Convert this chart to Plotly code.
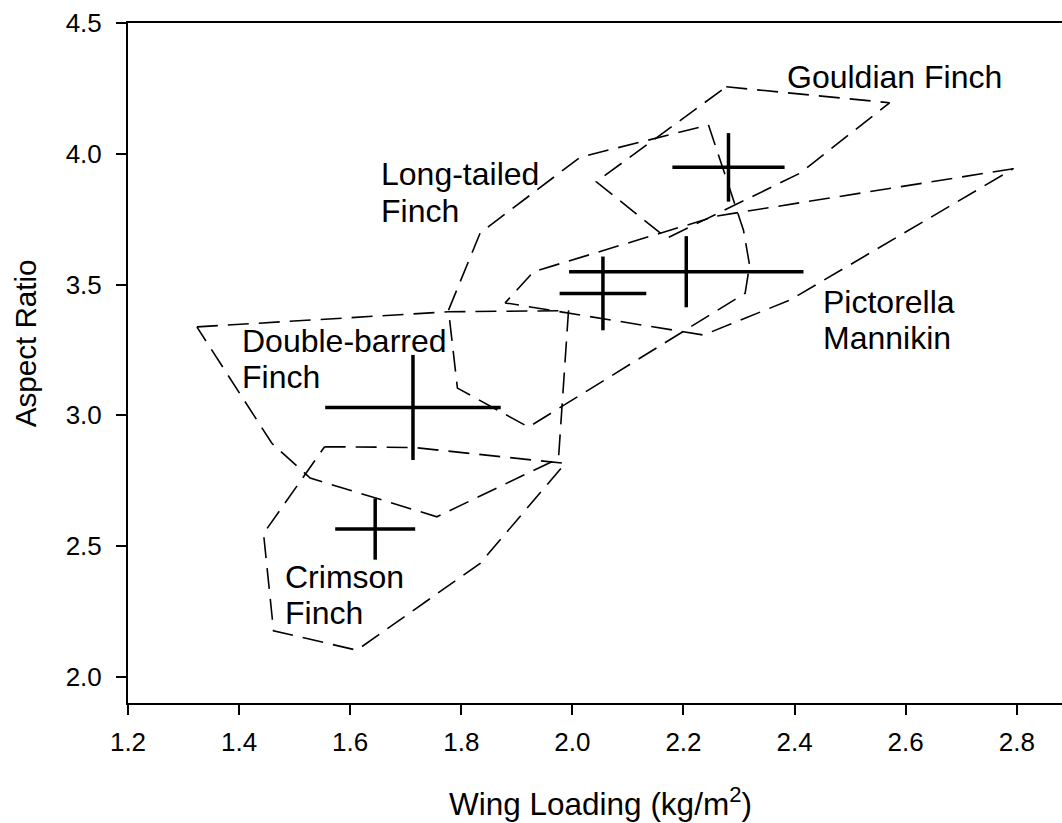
import plotly.graph_objects as go

# ---- data ----
species = ["Gouldian Finch", "Pictorella Mannikin", "Long-tailed Finch", "Double-barred Finch", "Crimson Finch"]
mean_wl = [2.281, 2.205, 2.055, 1.713, 1.645]
se_wl = [0.101, 0.211, 0.078, 0.158, 0.072]
mean_ar = [3.948, 3.549, 3.466, 3.030, 2.565]
se_ar = [0.131, 0.136, 0.141, 0.201, 0.117]

gouldian_wl = [2.277, 2.571, 2.410, 2.170, 2.043]
gouldian_ar = [4.256, 4.195, 3.926, 3.677, 3.893]

pictorella_wl = [2.794, 2.260, 1.930, 1.879, 2.236, 2.392]
pictorella_ar = [3.943, 3.762, 3.549, 3.430, 3.307, 3.441]

longtailed_wl = [2.245, 2.308, 2.319, 2.311, 1.921, 1.793, 1.777, 1.834, 2.014]
longtailed_ar = [4.110, 3.708, 3.574, 3.467, 2.955, 3.104, 3.402, 3.697, 3.987]

doublebarred_wl = [1.324, 1.777, 1.993, 1.975, 1.756, 1.528, 1.459]
doublebarred_ar = [3.338, 3.396, 3.400, 2.835, 2.612, 2.760, 2.893]

crimson_wl = [1.554, 1.714, 1.987, 1.834, 1.612, 1.462, 1.444]
crimson_ar = [2.880, 2.877, 2.816, 2.434, 2.102, 2.176, 2.548]

hulls = [
    (gouldian_wl, gouldian_ar),
    (pictorella_wl, pictorella_ar),
    (longtailed_wl, longtailed_ar),
    (doublebarred_wl, doublebarred_ar),
    (crimson_wl, crimson_ar),
]

label_lines = ["Gouldian Finch", "Long-tailed", "Finch", "Double-barred", "Finch",
               "Pictorella", "Mannikin", "Crimson", "Finch"]
label_x = [2.383, 1.651, 1.651, 1.402, 1.402, 2.4475, 2.4475, 1.479, 1.479]
label_y = [4.2945, 3.922, 3.782, 3.2845, 3.146, 3.434, 3.297, 2.3805, 2.2424]

x_ticks = [1.2, 1.4, 1.6, 1.8, 2.0, 2.2, 2.4, 2.6, 2.8]
y_ticks = [2.0, 2.5, 3.0, 3.5, 4.0, 4.5]

FONT = "Liberation Sans, Arial, sans-serif"

fig = go.Figure()

for wl, ar in hulls:
    fig.add_trace(go.Scatter(
        x=list(wl) + [wl[0]], y=list(ar) + [ar[0]],
        mode="lines", line=dict(color="black", width=1.6, dash="21px,10px"),
        hoverinfo="skip", showlegend=False))

fig.add_trace(go.Scatter(
    x=mean_wl, y=mean_ar, mode="markers",
    marker=dict(size=0.1, color="black"),
    error_x=dict(type="data", array=se_wl, visible=True, thickness=3.5, width=0, color="black"),
    error_y=dict(type="data", array=se_ar, visible=True, thickness=3.5, width=0, color="black"),
    hovertext=species, hoverinfo="text", showlegend=False))

for t, lx, ly in zip(label_lines, label_x, label_y):
    fig.add_annotation(x=lx, y=ly, xref="x", yref="y", text=t, showarrow=False,
                       xanchor="left", yanchor="middle",
                       font=dict(family=FONT, size=32, color="black"))

fig.add_annotation(x=0.5054, y=-0.1456, xref="paper", yref="paper",
                   text="Wing Loading (kg/m<sup>2</sup>)", showarrow=False,
                   xanchor="center", yanchor="middle",
                   font=dict(family=FONT, size=31.5, color="black"))
fig.add_annotation(x=-0.110, y=0.5294, xref="paper", yref="paper",
                   text="Aspect Ratio", showarrow=False, textangle=-90,
                   xanchor="center", yanchor="middle",
                   font=dict(family=FONT, size=29.6, color="black"))

fig.update_xaxes(range=[1.2, 2.8814], tickvals=x_ticks, ticktext=[f"{v:.1f}" for v in x_ticks],
                 showline=True, linecolor="black", linewidth=2, mirror=True,
                 ticks="outside", ticklen=10, tickwidth=2, tickcolor="black",
                 showgrid=False, zeroline=False, ticklabelstandoff=5,
                 tickfont=dict(family=FONT, size=26, color="black"))
fig.update_yaxes(range=[1.9, 4.5], tickvals=y_ticks, ticktext=[f"{v:.1f}" for v in y_ticks],
                 showline=True, linecolor="black", linewidth=2, mirror=False,
                 ticks="outside", ticklen=10, tickwidth=2, tickcolor="black",
                 showgrid=False, zeroline=False, ticklabelstandoff=9,
                 tickfont=dict(family=FONT, size=26, color="black"))

fig.update_layout(width=1062, height=823, margin=dict(l=128, r=0, t=23, b=120, pad=0),
                  paper_bgcolor="white", plot_bgcolor="white", showlegend=False)

fig.write_html("out.html", config={"displayModeBar": False},
               post_script="document.body.style.margin='0';document.body.style.overflow='hidden';")
